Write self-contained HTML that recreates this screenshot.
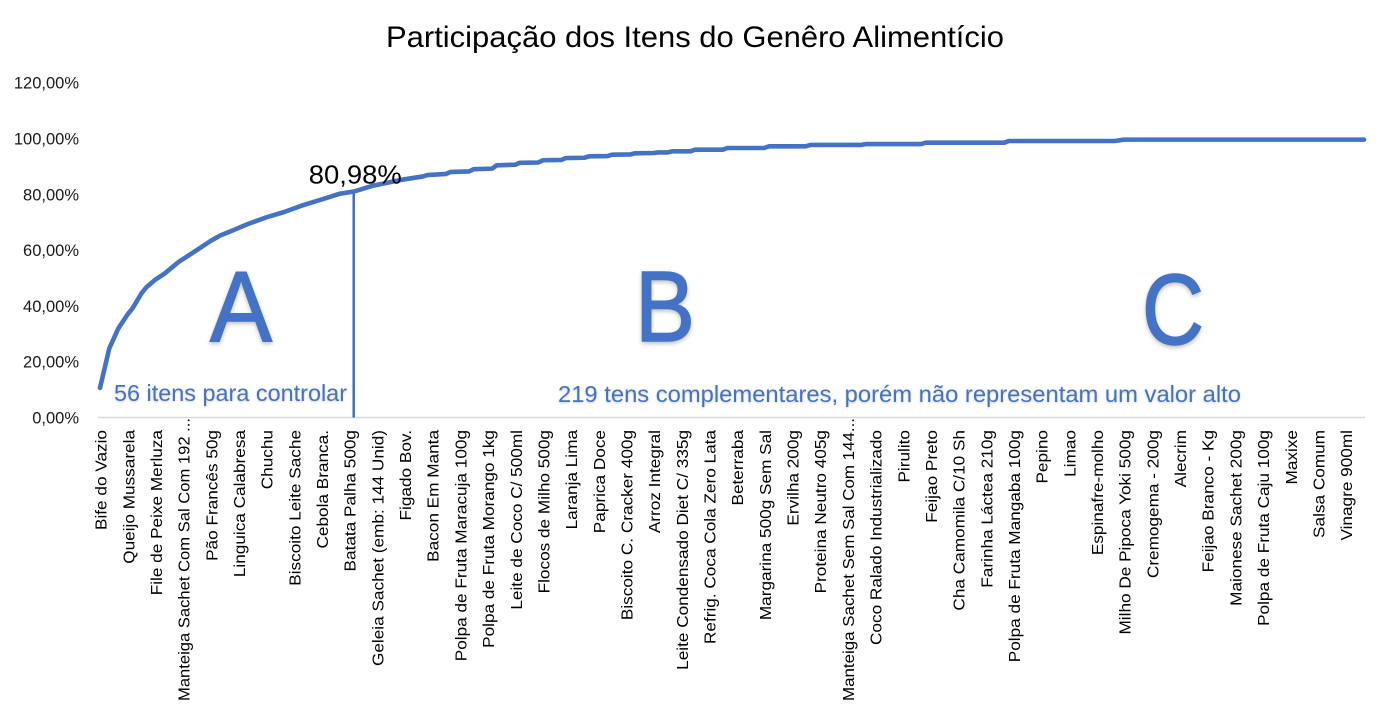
<!DOCTYPE html>
<html lang="pt">
<head>
<meta charset="utf-8">
<title>Participação dos Itens do Genêro Alimentício</title>
<style>
html,body{margin:0;padding:0;background:#fff;width:1389px;height:717px;overflow:hidden}
svg{display:block;font-family:"Liberation Sans",sans-serif}
.big{font-size:100px;fill:#4472c4;stroke:#4472c4;stroke-width:1.5px;filter:drop-shadow(0 2px 2px rgba(0,0,0,.25))}
.note{fill:#4472c4;filter:drop-shadow(0 1px 1px rgba(0,0,0,.2))}
</style>
</head>
<body>
<svg id="chart" xmlns="http://www.w3.org/2000/svg" width="1389" height="717" viewBox="0 0 1389 717">
  <rect x="0" y="0" width="1389" height="717" fill="#ffffff"/>
  <text x="386" y="47" font-size="30" fill="#000" textLength="618" lengthAdjust="spacingAndGlyphs">Participação dos Itens do Genêro Alimentício</text>
  <g id="y-axis"></g>
  <line x1="98" y1="417.5" x2="1365" y2="417.5" stroke="#d9d9d9" stroke-width="1.6"/>
  <g id="x-axis"></g>
  <line id="abc-divider" stroke="#4472c4" stroke-width="2.6"/>
  <path id="series" fill="none" stroke="#4472c4" stroke-width="4.6" stroke-linejoin="round" stroke-linecap="round"/>
  <text id="point-label" font-size="26" fill="#000" textLength="93" lengthAdjust="spacingAndGlyphs"></text>
  <text class="big" x="210" y="341" textLength="62" lengthAdjust="spacingAndGlyphs">A</text>
  <text class="big" x="635" y="341" textLength="60" lengthAdjust="spacingAndGlyphs">B</text>
  <text class="big" x="1142" y="344" textLength="62" lengthAdjust="spacingAndGlyphs">C</text>
  <text class="note" x="114" y="401" font-size="23.5" textLength="233" lengthAdjust="spacingAndGlyphs">56 itens para controlar</text>
  <text class="note" x="558" y="402" font-size="23" textLength="683" lengthAdjust="spacingAndGlyphs">219 tens complementares, porém não representam um valor alto</text>
</svg>
<script>
const categories = ["Bife do Vazio","Queijo Mussarela","File de Peixe Merluza","Manteiga Sachet Com Sal Com 192 ...","Pão Francês 50g","Linguica Calabresa","Chuchu","Biscoito Leite Sache","Cebola Branca.","Batata Palha 500g","Geleia Sachet (emb: 144 Unid)","Figado Bov.","Bacon Em Manta","Polpa de Fruta Maracuja 100g","Polpa de Fruta Morango 1kg","Leite de Coco C/ 500ml","Flocos de Milho 500g","Laranja Lima","Paprica Doce","Biscoito C. Cracker 400g","Arroz Integral","Leite Condensado Diet C/ 335g","Refrig. Coca Cola Zero Lata","Beterraba","Margarina 500g Sem Sal","Ervilha 200g","Proteina Neutro 405g","Manteiga Sachet  Sem Sal Com 144...","Coco Ralado Industrializado","Pirulito","Feijao Preto","Cha Camomila C/10 Sh","Farinha Láctea 210g","Polpa de Fruta Mangaba 100g","Pepino","Limao","Espinafre-molho","Milho De Pipoca Yoki 500g","Cremogema - 200g","Alecrim","Feijao Branco - Kg","Maionese Sachet 200g","Polpa de Fruta Caju 100g","Maxixe","Salsa Comum","Vinagre 900ml"];
const yTickValues = [0,20,40,60,80,100,120];
const yTickLabels = ["0,00%","20,00%","40,00%","60,00%","80,00%","100,00%","120,00%"];
const itemRanks = [1,3,5,7,8,10,11,13,15,18,22,25,27,30,33,37,41,45,49,53,56,60,66,71,72,76,77,81,82,86,87,91,92,96,97,101,102,106,107,111,112,116,117,121,122,124,125,129,130,136,137,145,146,154,155,166,167,179,180,197,198,221,223,275];
const cumulativeShare = [10.6,24.7,32,37,39,44.5,46.6,49.4,51.6,55.7,60,63.3,65.2,67.2,69.3,71.7,73.7,76.1,78.1,80.2,80.98,83,85.1,86.4,86.9,87.3,88,88.2,89,89.2,90.4,90.6,91.3,91.4,92.2,92.3,93,93.1,93.6,93.7,94.2,94.3,94.7,94.8,95,95,95.4,95.4,96,96,96.6,96.6,97.2,97.2,97.7,97.7,98,98,98.5,98.5,99.1,99.1,99.6,99.6];
const totalItems = 275;
const labelEvery = 6;
const cutoffRank = 56;
const cutoffShare = 80.98;
const cutoffLabel = "80,98%";

const NS = "http://www.w3.org/2000/svg";
const xFor = r => 100 + (r - 1) * (1364 - 100) / (totalItems - 1);
const yFor = v => 417.5 - v * 2.79;
const yGroup = document.getElementById("y-axis");
const xGroup = document.getElementById("x-axis");

yTickValues.forEach((v, i) => {
  const t = document.createElementNS(NS, "text");
  
  
  t.setAttribute("x", 79);
  t.setAttribute("y", yFor(v) + 6);
  t.setAttribute("text-anchor", "end");
  t.setAttribute("font-size", "16.5");
  t.setAttribute("fill", "#1a1a1a");
  t.textContent = yTickLabels[i];
  yGroup.appendChild(t);
});

categories.forEach((c, i) => {
  const t = document.createElementNS(NS, "text");
  
  
  const x = xFor(i * labelEvery + 1) + 1;
  const truncated = c.endsWith("...");
  t.setAttribute("transform", "translate(" + x + "," + (truncated ? 418 : 430) + ") rotate(-90)" + (truncated ? "" : " scale(1.11,1)"));
  t.setAttribute("text-anchor", "end");
  t.setAttribute("dy", "0.36em");
  t.setAttribute("font-size", "15.5");
  t.setAttribute("fill", "#000");
  if (truncated) {
    t.setAttribute("textLength", "283");
    t.setAttribute("lengthAdjust", "spacingAndGlyphs");
  }
  t.textContent = c;
  xGroup.appendChild(t);
});

document.getElementById("series").setAttribute("d",
  itemRanks.map((r, i) => (i ? "L" : "M") + xFor(r).toFixed(2) + " " + yFor(cumulativeShare[i]).toFixed(2)).join(" "));

const divider = document.getElementById("abc-divider");
divider.setAttribute("x1", xFor(cutoffRank));
divider.setAttribute("x2", xFor(cutoffRank));
divider.setAttribute("y1", yFor(cutoffShare));
divider.setAttribute("y2", yFor(0));

const pl = document.getElementById("point-label");
pl.setAttribute("x", xFor(cutoffRank) - 45);
pl.setAttribute("y", yFor(cutoffShare) - 8);
pl.textContent = cutoffLabel;
</script>
</body>
</html>
